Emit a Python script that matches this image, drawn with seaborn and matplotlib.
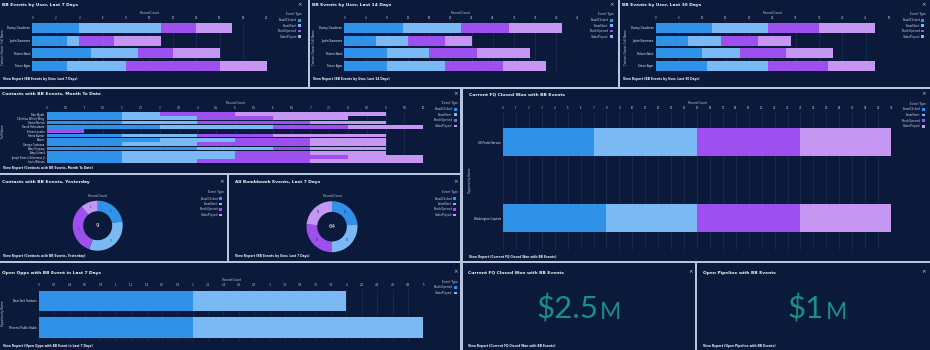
"""
Bombbomb events dashboard, dark theme.
"""

import numpy as np
import pandas as pd
import matplotlib
matplotlib.use("Agg")
import matplotlib.pyplot as plt
from matplotlib.patches import Rectangle
import seaborn as sns

sns.set_theme(style="dark")
plt.rcParams["font.family"] = ["DejaVu Sans"]

W, H = 930, 350
BG = "#0b1a3b"
SEP = "#b7c6de"
GRID = "#1f2f55"
TXT = "#eef1f7"
TICK = "#c3cce0"
TEAL = "#1a9084"

event_types = ["EmailClicked", "EmailSent", "BrochOpened", "VideoPlayed"]
event_colors = ["#3091e8", "#7bb9f4", "#9d50ef", "#c697f2"]

# BB events by user
owners = ["Danny Goodman", "Justin Sizemore", "Ruben Nash", "Steve Agar"]
week_clicked = [4, 3, 5, 3]
week_sent = [7, 1, 4, 5]
week_broch = [3, 3, 3, 8]
week_video = [3, 4, 4, 4]

fortnight_clicked = [11, 6, 8, 8]
fortnight_sent = [11, 6, 8, 11]
fortnight_broch = [9, 7, 9, 11]
fortnight_video = [10, 5, 10, 8]

month_clicked = [12, 7, 10, 11]
month_sent = [12, 7, 8, 13]
month_broch = [11, 8, 10, 13]
month_video = [12, 7, 10, 10]

# contacts, month to date
contacts = ["Dan Wyatt", "Christian Weiler Wing", "Dorne Norton", "David Hohnsteam",
            "Eileen Lovette", "Hema Kumar", "Bixom", "George Costanza",
            "Amy Gregory", "Amy Gerard", "Joseph Francis Silverman Jr", "Louis Wesson"]
mtd_clicked = [2, 2, 2, 3, 0, 2, 3, 2, 4, 2, 2, 2]
mtd_sent = [1, 2, 2, 3, 0, 2, 2, 2, 2, 3, 3, 2]
mtd_broch = [2, 2, 3, 2, 1, 2, 2, 3, 1, 2, 3, 3]
mtd_video = [4, 2, 2, 2, 0, 3, 2, 2, 2, 2, 2, 3]

# closed won opportunities this quarter
won_opps = ["US Postal Service", "Washington Capitals"]
won_clicked = [7, 8]
won_sent = [8, 7]
won_broch = [8, 8]
won_video = [7, 7]

# contacts yesterday
yesterday_counts = [2, 3, 3, 1]

# open opps last 7 days
open_opps = ["New York Yankees", "Phoenix Public Radio"]
open_types = ["BrochOpened", "VideoPlayed"]
open_colors = ["#3091e8", "#7bb9f4"]
open_broch = [2, 2]
open_video = [2, 3]

won_amount = "$2.5"
pipeline_amount = "$1"


fig = plt.figure(figsize=(W / 100, H / 100), dpi=100, facecolor=SEP)


def fx(x):
    return x / W


def fy(y):
    return 1 - y / H


def rect_px(x0, y0, x1, y1, color):
    fig.add_artist(Rectangle((fx(x0), fy(y1)), (x1 - x0) / W, (y1 - y0) / H,
                             transform=fig.transFigure, facecolor=color,
                             edgecolor="none", zorder=0))


def add_ax(x0, y0, x1, y1):
    ax = fig.add_axes([fx(x0), fy(y1), (x1 - x0) / W, (y1 - y0) / H])
    ax.set_facecolor("none")
    return ax


def text_px(x, y, s, size=2.2, color=TXT, **kw):
    fig.text(fx(x), fy(y), s, fontsize=size, color=color, va="center", **kw)


def panel(box, title, footer, close_xy, title_xy, footer_xy):
    rect_px(*box, BG)
    text_px(*title_xy, title, size=3.2, weight="bold")
    if footer:
        text_px(*footer_xy, footer, size=2.1, weight="bold")
    text_px(*close_xy, "×", size=4, color="#c8d0e0", ha="center")


def legend(xr, ytitle, ys, labels, colors):
    text_px(xr, ytitle, "Event Type", size=2.1, color=TICK, ha="right")
    for y, lab, c in zip(ys, labels, colors):
        text_px(xr - 5, y, lab, size=2.1, color=TICK, ha="right")
        rect_px(xr - 4, y - 1.4, xr - 1.2, y + 1.4, c)


def stacked(box, names, segs, colors, xmax, step, width, ylim=None, ysize=2.0):
    ax = add_ax(*box)
    cum = np.cumsum(np.array(segs), axis=0)
    for i in range(len(segs) - 1, -1, -1):
        df = pd.DataFrame({"name": names, "value": cum[i]})
        sns.barplot(data=df, x="value", y="name", orient="h", color=colors[i],
                    saturation=1, width=width, linewidth=0, errorbar=None, ax=ax)
    ticks = np.arange(0, xmax + step / 2, step)
    ax.set_xlim(0, xmax)
    ax.set_xticks(ticks)
    ax.set_xticklabels([f"{t:g}" for t in ticks])
    ax.xaxis.tick_top()
    ax.xaxis.set_label_position("top")
    ax.set_xlabel("Record Count", fontsize=2.1, color=TICK, labelpad=1.6)
    ax.set_ylabel("")
    if ylim is not None:
        ax.set_ylim(*ylim)
    ax.tick_params(axis="x", length=0, labelsize=1.9, colors=TICK, pad=1.2)
    ax.tick_params(axis="y", length=0, labelsize=ysize, colors=TXT, pad=1.5)
    for s in ax.spines.values():
        s.set_visible(False)
    ax.grid(axis="x", color=GRID, linewidth=0.5)
    ax.set_axisbelow(True)
    return ax


def ylabel(x, y, s):
    text_px(x, y, s, size=2.0, color=TICK, rotation=90, ha="center")


def donut(cx, cy, r, counts, colors, label_y):
    ax = add_ax(cx - r, cy - r, cx + r, cy + r)
    ax.pie(counts, colors=colors, startangle=90, counterclock=False,
           wedgeprops=dict(width=0.42, linewidth=0))
    ax.set_xlim(-1, 1)
    ax.set_ylim(-1, 1)
    total = sum(counts)
    ax.text(0, 0, f"{total}", ha="center", va="center", fontsize=4, color=TXT)
    start = 90.0
    for v in counts:
        mid = np.deg2rad(start - 360 * v / total / 2)
        ax.text(0.79 * np.cos(mid), 0.79 * np.sin(mid), f"{v}", ha="center",
                va="center", fontsize=1.8, color="#1c2b4d")
        start -= 360 * v / total
    text_px(cx, label_y, "Record Count", size=2.1, color=TICK, ha="center")


# ---------------- panel backgrounds / titles ----------------
row1 = [((0, 0, 308, 87), "Last 7 Days", 2, 300),
        ((310, 0, 618, 87), "Last 14 Days", 312, 612),
        ((620, 0, 930, 87), "Last 30 Days", 622, 924)]
for box, period, tx, cx in row1:
    panel(box, f"BB Events by User, {period}",
          f"View Report (BB Events by User, {period})",
          (cx, 4.8), (tx, 5.3), (tx + 1, 79))

panel((0, 89, 460, 173), "Contacts with BB Events, Month To Date",
      "View Report (Contacts with BB Events, Month To Date)",
      (456, 93.5), (2, 94.3), (3, 168.3))
panel((463, 89, 930, 261), "Current FQ Closed Won with BB Events",
      "View Report (Current FQ Closed Won with BB Events)",
      (924, 93.7), (469, 94.7), (469, 257))
panel((0, 175, 227, 261), "Contacts with BB Events, Yesterday",
      "View Report (Contacts with BB Events, Yesterday)",
      (222, 181.7), (2, 182.3), (3, 256.3))
panel((229, 175, 460, 261), "All Bombbomb Events, Last 7 Days",
      "View Report (BB Events by User, Last 7 Days)",
      (456, 181.7), (234.5, 182.3), (234.5, 256.3))
panel((0, 263, 460, 350), "Open Opps with BB Event in Last 7 Days",
      "View Report (Open Opps with BB Event in Last 7 Days)",
      (456, 272), (2, 272.7), (3, 346))
panel((463, 263, 695, 350), "Current FQ Closed Won with BB Events",
      "View Report (Current FQ Closed Won with BB Events)",
      (690.3, 272), (468, 272.7), (468, 346))
panel((697, 263, 930, 350), "Open Pipeline with BB Events",
      "View Report (Open Pipeline with BB Events)",
      (924, 272), (702.5, 272.7), (702.5, 346))

# ---------------- row 1: events by user ----------------
stacked((32.3, 21.7, 266.7, 72), owners,
        [week_clicked, week_sent, week_broch, week_video], event_colors, 20, 2, 0.8)
stacked((344.3, 21.7, 577.5, 72), owners,
        [fortnight_clicked, fortnight_sent, fortnight_broch, fortnight_video],
        event_colors, 44, 4, 0.8)
stacked((655.7, 21.7, 889, 72), owners,
        [month_clicked, month_sent, month_broch, month_video], event_colors, 50, 5, 0.8)
for x, xr in [(3, 302), (314, 613.7), (626, 925.4)]:
    ylabel(x, 47, "Contact Owner: Full Name")
    legend(xr, 14, [20.3, 25.7, 31, 36.6], event_types, event_colors)

# ---------------- contacts month to date ----------------
stacked((46.7, 111.85, 423.3, 163.5), contacts,
        [mtd_clicked, mtd_sent, mtd_broch, mtd_video], event_colors, 10, 0.5, 0.86,
        ysize=1.8)
ylabel(3, 131, "Full Name")
legend(457.7, 103, [109.3, 114.7, 120.3, 126], event_types, event_colors)

# ---------------- closed won chart ----------------
stacked((503, 112, 891, 250), won_opps,
        [won_clicked, won_sent, won_broch, won_video], event_colors, 30, 1, 0.36,
        ylim=(1.421, -0.395), ysize=1.9)
ylabel(469.5, 180, "Opportunity Name")
legend(925.7, 103.7, [109.3, 115, 120.7, 126.3], event_types, event_colors)

# ---------------- donuts ----------------
week_totals = [sum(week_clicked), sum(week_sent), sum(week_broch), sum(week_video)]
donut(97.7, 225.7, 25, yesterday_counts, event_colors, 195.7)
legend(223.4, 191.7, [198.7, 204, 209.3, 215], event_types, event_colors)
donut(332, 226.7, 25.5, week_totals, event_colors, 195.7)
legend(457.4, 191.7, [198.7, 204, 209.3, 215], event_types, event_colors)

# ---------------- open opps ----------------
stacked((39, 289, 423.3, 341), open_opps, [open_broch, open_video], open_colors,
        5, 0.2, 0.78, ylim=(1.51, -0.453), ysize=1.9)
ylabel(3, 313.7, "Opportunity Name")
legend(457.7, 282, [287.3, 293], open_types, open_colors)

# ---------------- metrics ----------------
big = dict(color=TEAL, va="baseline", family=["Lato", "DejaVu Sans"], weight="normal")
fig.text(fx(598), fy(318.7), won_amount, fontsize=22.5, ha="right", **big)
fig.text(fx(600), fy(318.7), "M", fontsize=16.5, ha="left", **big)
fig.text(fx(824), fy(318.7), pipeline_amount, fontsize=22.5, ha="right", **big)
fig.text(fx(826), fy(318.7), "M", fontsize=16.5, ha="left", **big)

fig.savefig("out.png", dpi=100, facecolor=SEP)
plt.close(fig)
